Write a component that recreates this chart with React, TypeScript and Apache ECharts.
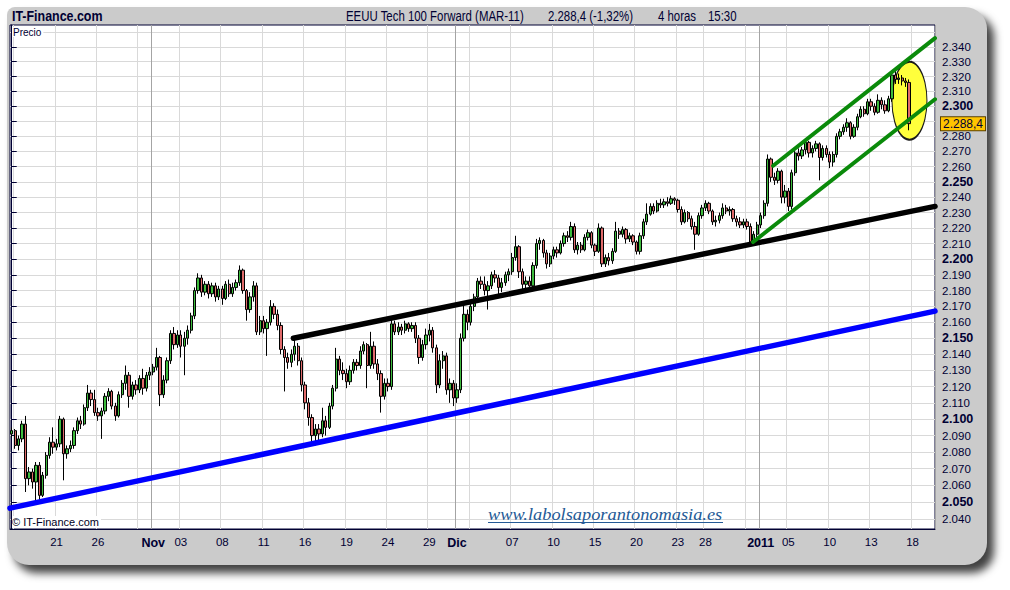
import React, { useEffect, useRef } from 'react';
import * as echarts from 'echarts';

// --- eje temporal: sesiones del 18-oct-2010 al 19-ene-2011, 4 velas por sesión ---
const tradingDays = [
  '10-18', '10-19', '10-20', '10-21', '10-22', '10-25', '10-26', '10-27', '10-28', '10-29',
  '11-01', '11-02', '11-03', '11-04', '11-05', '11-08', '11-09', '11-10', '11-11', '11-12',
  '11-15', '11-16', '11-17', '11-18', '11-19', '11-22', '11-23', '11-24', '11-25', '11-26',
  '11-29', '11-30', '12-01', '12-02', '12-03', '12-06', '12-07', '12-08', '12-09', '12-10',
  '12-13', '12-14', '12-15', '12-16', '12-17', '12-20', '12-21', '12-22', '12-23', '12-27',
  '12-28', '12-29', '12-30', '12-31', '01-03', '01-04', '01-05', '01-06', '01-07', '01-10',
  '01-11', '01-12', '01-13', '01-14', '01-17', '01-18', '01-19',
];
const BARS_PER_DAY = 4;
const AXIS_SLOTS = 268;

const tickDays = ['10-21', '10-26', '11-01', '11-03', '11-08', '11-11', '11-16', '11-19', '11-24', '11-29',
  '12-01', '12-07', '12-10', '12-15', '12-20', '12-23', '12-28', '01-03', '01-05', '01-10', '01-13', '01-18'];
const tickTexts = ['21', '26', 'Nov', '03', '08', '11', '16', '19', '24', '29',
  'Dic', '07', '10', '15', '20', '23', '28', '2011', '05', '10', '13', '18'];
const monthDays = ['11-01', '12-01', '01-03'];
const extraGridDays = ['10-18', '10-29', '12-02', '12-31'];

const yTickPrices = [2040, 2050, 2060, 2070, 2080, 2090, 2100, 2110, 2120, 2130, 2140, 2150, 2160, 2170,
  2180, 2190, 2200, 2210, 2220, 2230, 2240, 2250, 2260, 2270, 2280, 2290, 2300, 2310, 2320, 2330, 2340, 2350];
// 2.290 queda tapado por la etiqueta del último precio, 2.350 no lleva texto
const yLabelPrices = yTickPrices.filter((p) => p <= 2340 && p !== 2290);
const Y_MIN = 2034;
const Y_MAX = 2355;

// velas 4h: [apertura, cierre, mínimo, máximo]
const octBars = [
  [2091, 2093, 2089, 2095],
  [2093, 2084, 2082, 2094], [2084, 2088, 2081, 2090], [2088, 2097, 2086, 2099], [2097, 2064, 2056, 2102],
  [2064, 2068, 2060, 2071], [2068, 2062, 2058, 2070], [2062, 2072, 2050, 2074], [2072, 2054, 2051, 2074],
  [2054, 2066, 2053, 2068], [2066, 2078, 2064, 2080], [2078, 2086, 2076, 2089], [2086, 2083, 2079, 2095],
  [2083, 2085, 2081, 2088], [2085, 2100, 2083, 2102], [2100, 2079, 2063, 2101], [2079, 2082, 2076, 2084],
  [2082, 2084, 2080, 2087], [2084, 2093, 2082, 2095], [2093, 2099, 2091, 2101], [2099, 2097, 2094, 2102],
  [2097, 2107, 2096, 2109], [2107, 2116, 2105, 2121], [2116, 2112, 2108, 2118], [2112, 2104, 2102, 2118],
  [2104, 2102, 2099, 2107], [2102, 2105, 2088, 2107], [2105, 2114, 2103, 2116], [2114, 2117, 2111, 2119],
  [2117, 2108, 2106, 2118], [2108, 2102, 2099, 2110], [2102, 2115, 2101, 2117], [2115, 2122, 2113, 2124],
  [2122, 2127, 2118, 2133], [2127, 2114, 2107, 2129], [2114, 2121, 2112, 2123], [2121, 2118, 2115, 2124],
  [2118, 2125, 2116, 2127], [2125, 2119, 2115, 2131], [2119, 2127, 2117, 2129], [2127, 2129, 2124, 2132],
];
const novBars = [
  [2129, 2132, 2127, 2134], [2132, 2138, 2130, 2144], [2138, 2115, 2108, 2139], [2115, 2124, 2113, 2127],
  [2124, 2136, 2122, 2138], [2136, 2153, 2134, 2155], [2153, 2146, 2143, 2157], [2146, 2152, 2144, 2155],
  [2152, 2145, 2138, 2155], [2145, 2150, 2127, 2154], [2150, 2155, 2146, 2158], [2155, 2164, 2153, 2166],
  [2164, 2180, 2162, 2182], [2180, 2188, 2178, 2191], [2188, 2179, 2176, 2190], [2179, 2184, 2177, 2186],
  [2184, 2178, 2175, 2186], [2178, 2183, 2176, 2185], [2183, 2176, 2173, 2185], [2176, 2181, 2174, 2183],
  [2181, 2175, 2171, 2183], [2175, 2184, 2174, 2186], [2184, 2178, 2176, 2187], [2178, 2182, 2176, 2185],
  [2182, 2185, 2180, 2187], [2185, 2193, 2183, 2196], [2193, 2180, 2178, 2194], [2180, 2168, 2161, 2181],
  [2168, 2176, 2166, 2179], [2176, 2183, 2173, 2186], [2183, 2154, 2152, 2185], [2154, 2161, 2152, 2164],
  [2161, 2156, 2153, 2164], [2156, 2160, 2139, 2162], [2160, 2170, 2158, 2174], [2170, 2165, 2162, 2172],
  [2165, 2158, 2155, 2168], [2158, 2143, 2140, 2160], [2143, 2138, 2117, 2145], [2138, 2135, 2131, 2141],
  [2135, 2140, 2132, 2143], [2140, 2145, 2136, 2150], [2145, 2136, 2133, 2147], [2136, 2121, 2117, 2138],
  [2121, 2110, 2106, 2123], [2110, 2101, 2096, 2113], [2101, 2090, 2086, 2103], [2090, 2094, 2084, 2097],
  [2094, 2091, 2086, 2097], [2091, 2099, 2089, 2107], [2099, 2095, 2090, 2102], [2095, 2108, 2094, 2110],
  [2108, 2119, 2106, 2121], [2119, 2137, 2117, 2144], [2137, 2130, 2127, 2139], [2130, 2128, 2124, 2135],
  [2128, 2123, 2119, 2131], [2123, 2130, 2121, 2133], [2130, 2135, 2128, 2137], [2135, 2133, 2130, 2137],
  [2133, 2142, 2131, 2145], [2142, 2146, 2140, 2148], [2146, 2133, 2119, 2147], [2133, 2145, 2131, 2154],
  [2145, 2134, 2131, 2148], [2134, 2128, 2124, 2137], [2128, 2114, 2104, 2130], [2114, 2122, 2112, 2125],
  [2122, 2120, 2117, 2125], [2120, 2159, 2118, 2162], [2159, 2154, 2152, 2161], [2154, 2157, 2152, 2160],
  [2157, 2155, 2152, 2159], [2155, 2159, 2153, 2161], [2159, 2156, 2154, 2160], [2156, 2158, 2154, 2160],
  [2158, 2150, 2147, 2160], [2150, 2138, 2134, 2152], [2138, 2146, 2136, 2149], [2146, 2152, 2143, 2156],
  [2152, 2155, 2148, 2159], [2155, 2144, 2141, 2157], [2144, 2121, 2116, 2146], [2121, 2136, 2119, 2140],
  [2136, 2139, 2131, 2142], [2139, 2118, 2115, 2141], [2118, 2122, 2110, 2125], [2122, 2113, 2108, 2124],
];
const decBars = [
  [2113, 2118, 2110, 2122], [2118, 2150, 2116, 2153], [2150, 2165, 2148, 2172], [2165, 2160, 2155, 2168],
  [2160, 2170, 2158, 2174], [2170, 2176, 2167, 2178], [2176, 2186, 2174, 2188], [2186, 2184, 2181, 2189],
  [2184, 2180, 2177, 2189], [2180, 2183, 2168, 2186], [2183, 2190, 2181, 2192], [2190, 2188, 2185, 2193],
  [2188, 2182, 2177, 2190], [2182, 2185, 2179, 2188], [2185, 2190, 2183, 2192], [2190, 2192, 2186, 2194],
  [2192, 2201, 2190, 2204], [2201, 2208, 2199, 2215], [2208, 2192, 2188, 2209], [2192, 2184, 2181, 2194],
  [2184, 2186, 2180, 2189], [2186, 2183, 2180, 2189], [2183, 2196, 2181, 2198], [2196, 2210, 2194, 2213],
  [2210, 2212, 2206, 2214], [2212, 2204, 2201, 2213], [2204, 2197, 2194, 2206], [2197, 2202, 2195, 2204],
  [2202, 2206, 2200, 2208], [2206, 2204, 2201, 2208], [2204, 2210, 2203, 2212], [2210, 2215, 2208, 2217],
  [2215, 2214, 2211, 2218], [2214, 2221, 2212, 2224], [2221, 2206, 2204, 2223], [2206, 2209, 2203, 2211],
  [2209, 2206, 2204, 2211], [2206, 2214, 2205, 2216], [2214, 2217, 2212, 2219], [2217, 2209, 2207, 2218],
  [2209, 2205, 2202, 2210], [2205, 2220, 2204, 2223], [2220, 2197, 2195, 2221], [2197, 2201, 2195, 2203],
  [2201, 2199, 2196, 2204], [2199, 2205, 2197, 2207], [2205, 2218, 2204, 2224], [2218, 2216, 2213, 2220],
  [2216, 2219, 2214, 2221], [2219, 2213, 2210, 2220], [2213, 2215, 2211, 2217], [2215, 2211, 2209, 2216],
  [2211, 2205, 2203, 2212], [2205, 2215, 2203, 2217], [2215, 2224, 2213, 2226], [2224, 2229, 2222, 2236],
  [2229, 2234, 2228, 2236], [2234, 2231, 2229, 2236], [2231, 2236, 2230, 2238], [2236, 2235, 2233, 2239],
  [2235, 2237, 2233, 2239], [2237, 2236, 2234, 2240], [2236, 2239, 2235, 2241], [2239, 2238, 2235, 2240],
  [2238, 2232, 2230, 2239], [2232, 2224, 2222, 2234], [2224, 2230, 2223, 2232], [2230, 2226, 2224, 2231],
  [2226, 2221, 2219, 2228], [2221, 2216, 2206, 2224], [2216, 2228, 2215, 2230], [2228, 2233, 2226, 2235],
  [2233, 2236, 2231, 2238], [2236, 2231, 2229, 2237], [2231, 2224, 2222, 2232], [2224, 2225, 2221, 2228],
  [2225, 2228, 2223, 2230], [2228, 2233, 2226, 2236], [2233, 2231, 2229, 2235], [2231, 2232, 2228, 2234],
  [2232, 2226, 2224, 2233], [2226, 2224, 2221, 2228], [2224, 2222, 2220, 2227], [2222, 2224, 2220, 2226],
  [2224, 2221, 2219, 2226], [2221, 2211, 2209, 2223], [2211, 2216, 2209, 2218], [2216, 2222, 2214, 2224],
];
const janBars = [
  [2222, 2228, 2220, 2230], [2228, 2236, 2226, 2238], [2236, 2265, 2234, 2268], [2265, 2253, 2250, 2266],
  [2253, 2251, 2248, 2256], [2251, 2257, 2249, 2259], [2257, 2240, 2236, 2258], [2240, 2244, 2236, 2248],
  [2244, 2234, 2231, 2246], [2234, 2256, 2232, 2258], [2256, 2269, 2254, 2271], [2269, 2267, 2264, 2272],
  [2267, 2271, 2265, 2273], [2271, 2276, 2268, 2278], [2276, 2269, 2266, 2277], [2269, 2272, 2266, 2274],
  [2272, 2275, 2270, 2277], [2275, 2266, 2251, 2276], [2266, 2272, 2264, 2274], [2272, 2268, 2266, 2274],
  [2268, 2263, 2259, 2270], [2263, 2268, 2260, 2270], [2268, 2280, 2266, 2282], [2280, 2283, 2278, 2285],
  [2283, 2286, 2281, 2288], [2286, 2289, 2283, 2292], [2289, 2280, 2278, 2290], [2280, 2286, 2279, 2288],
  [2286, 2293, 2284, 2295], [2293, 2298, 2292, 2300], [2298, 2295, 2293, 2300], [2295, 2303, 2294, 2305],
  [2303, 2300, 2297, 2305], [2300, 2296, 2294, 2302], [2296, 2304, 2295, 2308], [2304, 2301, 2298, 2306],
  [2301, 2297, 2295, 2304], [2297, 2305, 2296, 2307], [2305, 2321, 2303, 2324], [2321, 2318, 2315, 2325],
  [2318, 2319, 2315, 2322], [2319, 2317, 2314, 2321], [2317, 2316, 2313, 2319], [2316, 2288.4, 2284, 2318],
];
const lastPrice = 2288.4;

// líneas dibujadas sobre el gráfico: [posición de vela, precio]
const blackLine = [[81.6, 2150], [267.5, 2234]];
const blueLine = [[-0.5, 2046.4], [267.5, 2167]];
const greenUpper = [[220.6, 2260.6], [267.5, 2346]];
const greenLower = [[214.8, 2211], [267.5, 2304.7]];
const highlight = [260.1, 2303.7];

const NAVY = '#000033';
const FONT = '"Liberation Sans", Arial, sans-serif';
const SERIF = '"Liberation Serif", "Times New Roman", serif';

const lg = (p: number) => Math.log(p);
const fmtPrice = (p: number) => {
  const r = Math.round(p);
  return `${Math.floor(r / 1000)}.${String(r % 1000).padStart(3, '0')}`;
};
const firstBar = (day: string) => 1 + BARS_PER_DAY * tradingDays.indexOf(day);

function buildOption(): any {
  const categories = ['10-15 #3'].concat(
    tradingDays.flatMap((d) => Array.from({ length: BARS_PER_DAY }, (_, k) => `${d} #${k}`)),
  ).slice(0, AXIS_SLOTS);

  const labelAt = new Map<number, string>();
  tickDays.forEach((d, k) => labelAt.set(firstBar(d), tickTexts[k]));
  const monthIdx = new Set(monthDays.map(firstBar));
  const lightIdx = new Set(
    tickDays.filter((d) => !monthDays.includes(d)).concat(extraGridDays).map(firstBar),
  );
  const monthTexts = ['Nov', 'Dic', '2011'];

  const bars = [...octBars, ...novBars, ...decBars, ...janBars].map((b) => b.map(lg));
  const toLine = (pts: number[][]) => pts.map(([x, p]) => [x, lg(p)]);

  const trend = (data: number[][], color: string, width: number) => ({
    type: 'line',
    xAxisIndex: 2,
    yAxisIndex: 0,
    data: toLine(data),
    symbol: 'none',
    silent: true,
    z: 3,
    lineStyle: { color, width, cap: 'round' },
  });

  return {
    animation: false,
    textStyle: { fontFamily: FONT },
    grid: {
      left: 10, top: 25, width: 925, height: 504,
      show: true, backgroundColor: '#ffffff', borderColor: NAVY, borderWidth: 1,
    },
    xAxis: [
      {
        type: 'category',
        data: categories,
        boundaryGap: true,
        position: 'bottom',
        axisLine: { lineStyle: { color: NAVY } },
        axisTick: {
          alignWithLabel: true,
          length: 4,
          interval: (i: number) => labelAt.has(i),
          lineStyle: { color: NAVY },
        },
        axisLabel: {
          interval: (i: number) => labelAt.has(i),
          margin: 7,
          formatter: (_v: string, i: number) => {
            const t = labelAt.get(i) || '';
            return monthTexts.includes(t) ? `{m|${t}}` : `{d|${t}}`;
          },
          rich: {
            m: { fontFamily: FONT, fontSize: 12.5, fontWeight: 'bold', color: NAVY },
            d: { fontFamily: FONT, fontSize: 11.5, color: NAVY },
          },
        },
        splitLine: {
          show: true,
          interval: (i: number) => lightIdx.has(i),
          lineStyle: { color: '#d9d9d9', width: 1 },
        },
      },
      {
        type: 'category',
        data: categories,
        boundaryGap: true,
        position: 'bottom',
        axisLine: { show: false },
        axisTick: { show: false },
        axisLabel: { show: false },
        splitLine: {
          show: true,
          interval: (i: number) => monthIdx.has(i),
          lineStyle: { color: '#a4a4a4', width: 1 },
        },
      },
      { type: 'value', min: -0.5, max: AXIS_SLOTS - 0.5, show: false },
    ],
    yAxis: {
      type: 'value',
      position: 'right',
      min: lg(Y_MIN),
      max: lg(Y_MAX),
      axisLine: { show: true, lineStyle: { color: NAVY } },
      axisTick: { show: true, length: 5, customValues: yTickPrices.map(lg), lineStyle: { color: NAVY } },
      axisLabel: {
        customValues: yLabelPrices.map(lg),
        margin: 7,
        formatter: (v: number) => {
          const p = Math.round(Math.exp(v));
          return p % 50 === 0 ? `{b|${fmtPrice(p)}}` : `{n|${fmtPrice(p)}}`;
        },
        rich: {
          b: { fontFamily: FONT, fontSize: 12.5, fontWeight: 'bold', color: NAVY },
          n: { fontFamily: FONT, fontSize: 11.5, color: NAVY },
        },
      },
      splitLine: { show: true, lineStyle: { color: '#d9d9d9', width: 1 } },
    },
    series: [
      {
        type: 'scatter',
        xAxisIndex: 2,
        yAxisIndex: 0,
        data: [[highlight[0], lg(highlight[1])]],
        symbol: 'circle',
        symbolSize: [35, 78],
        silent: true,
        z: 1,
        itemStyle: { color: '#ffff3c', borderColor: '#1a1a1a', borderWidth: 1.5, opacity: 1 },
      },
      {
        type: 'candlestick',
        xAxisIndex: 0,
        yAxisIndex: 0,
        data: bars,
        barWidth: 2.8,
        z: 2,
        itemStyle: {
          color: '#3dbb3d',
          color0: '#e06a6a',
          borderColor: '#000000',
          borderColor0: '#000000',
          borderWidth: 1,
        },
      },
      trend(blackLine, '#000000', 5.5),
      trend(blueLine, '#0000ff', 5.5),
      trend(greenUpper, '#0a8a0a', 4),
      trend(greenLower, '#0a8a0a', 4),
    ],
    graphic: [
      {
        id: 'brand', type: 'text', x: 12, y: 16, scaleX: 0.83, z: 10,
        style: { text: 'IT-Finance.com', fill: NAVY, font: `bold 15px ${FONT}`, verticalAlign: 'middle' },
      },
      {
        id: 't1', type: 'text', x: 346, y: 16, scaleX: 0.815, z: 10,
        style: { text: 'EEUU Tech 100 Forward (MAR-11)', fill: NAVY, font: `14px ${FONT}`, verticalAlign: 'middle' },
      },
      {
        id: 't2', type: 'text', x: 548, y: 16, scaleX: 0.815, z: 10,
        style: { text: '2.288,4 (-1,32%)', fill: NAVY, font: `14px ${FONT}`, verticalAlign: 'middle' },
      },
      {
        id: 't3', type: 'text', x: 658, y: 16, scaleX: 0.815, z: 10,
        style: { text: '4 horas', fill: NAVY, font: `14px ${FONT}`, verticalAlign: 'middle' },
      },
      {
        id: 't4', type: 'text', x: 708, y: 16, scaleX: 0.815, z: 10,
        style: { text: '15:30', fill: NAVY, font: `14px ${FONT}`, verticalAlign: 'middle' },
      },
      {
        id: 'precio', type: 'text', x: 12, y: 32, z: 10,
        style: {
          text: 'Precio', fill: NAVY, font: `10px ${FONT}`, verticalAlign: 'middle',
          backgroundColor: '#ffffff', padding: [0, 2, 0, 1],
        },
      },
      {
        id: 'copy', type: 'text', x: 12, y: 522, z: 10,
        style: {
          text: '© IT-Finance.com', fill: '#000022', font: `11px ${FONT}`, verticalAlign: 'middle',
          backgroundColor: '#ffffff', padding: [1, 2, 0, 0],
        },
      },
      {
        id: 'web', type: 'text', x: 488, y: 514, scaleX: 1.08, z: 10,
        style: { text: 'www.labolsaporantonomasia.es', fill: '#245a96', font: `italic 17px ${SERIF}`, verticalAlign: 'middle' },
      },
      {
        id: 'webLine', type: 'line', z: 10,
        shape: { x1: 488, y1: 522.5, x2: 723, y2: 522.5 },
        style: { stroke: '#245a96', lineWidth: 1 },
      },
    ],
  };
}

const App: React.FC = () => {
  const chartRef = useRef<HTMLDivElement>(null);

  useEffect(() => {
    if (!chartRef.current) return;
    const chart = echarts.init(chartRef.current, null, { renderer: 'svg' });
    chart.setOption(buildOption());

    // etiqueta del último precio sobre el eje derecho
    const tagY = chart.convertToPixel({ yAxisIndex: 0 }, lg(lastPrice)) as number;
    chart.setOption({
      graphic: {
        elements: [{
          id: 'lastTag', type: 'text', x: 941, y: tagY, z: 20,
          style: {
            text: '2.288,4', fill: NAVY, font: `12px ${FONT}`, verticalAlign: 'middle',
            backgroundColor: '#ffc400', borderColor: '#5a4000', borderWidth: 1, padding: [1, 2, 0, 2],
          },
        }],
      },
    });
    return () => chart.dispose();
  }, []);

  return (
    <div style={{ position: 'fixed', left: 0, top: 0, width: 1010, height: 590, background: '#ffffff', overflow: 'hidden' }}>
      <div style={{
        position: 'absolute', left: 7, top: 7, width: 980, height: 558,
        background: '#cbcbcb', borderRadius: '8px 22px 22px 22px',
        boxShadow: '7px 8px 8px rgba(0,0,0,0.75)',
      }} />
      <div ref={chartRef} style={{ position: 'absolute', left: 0, top: 0, width: 1010, height: 590 }} />
    </div>
  );
};

export default App;
